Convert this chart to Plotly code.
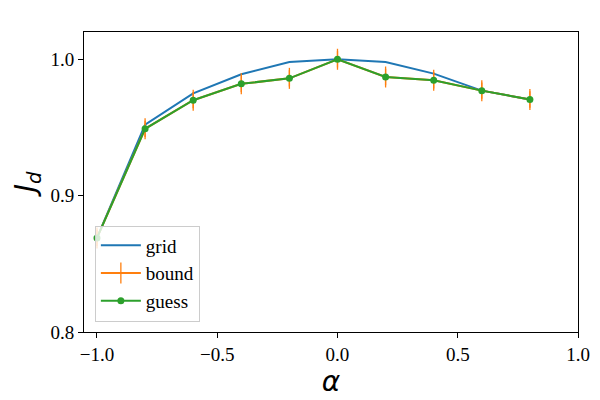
import plotly.graph_objects as go

alpha = [-1.0, -0.8, -0.6, -0.4, -0.2, 0.0, 0.2, 0.4, 0.6, 0.8]
grid = [0.869, 0.952, 0.975, 0.989, 0.998, 1.000, 0.998, 0.9895, 0.977, 0.9705]
bound = [0.869, 0.949, 0.970, 0.982, 0.986, 1.000, 0.987, 0.9846, 0.977, 0.9705]
bound_err = [0.006] * len(alpha)
guess = [0.869, 0.949, 0.970, 0.982, 0.986, 1.000, 0.987, 0.9846, 0.977, 0.9705]

fig = go.Figure()

fig.add_trace(go.Scatter(
    x=alpha, y=grid, mode='lines', name='grid',
    line=dict(color='#1f77b4', width=2)
))
# vertical-line marker so the legend shows the error bar glyph
fig.add_trace(go.Scatter(
    x=alpha, y=bound, mode='lines+markers', name='bound',
    line=dict(color='#ff7f0e', width=2),
    marker=dict(symbol='line-ns-open', size=15, color='#ff7f0e',
                line=dict(color='#ff7f0e', width=1.3)),
    error_y=dict(type='data', array=bound_err, color='#ff7f0e', thickness=1.3, width=0)
))
fig.add_trace(go.Scatter(
    x=alpha, y=guess, mode='lines+markers', name='guess',
    line=dict(color='#2ca02c', width=2),
    marker=dict(color='#2ca02c', size=7)
))

axis_font = dict(family='Liberation Serif', size=19, color='black')

# the page body adds an 8px offset, margins allow for it
fig.update_layout(
    width=600, height=400,
    margin=dict(l=76, r=30, t=24, b=76),
    paper_bgcolor='white', plot_bgcolor='white',
    font=axis_font,
    showlegend=True,
    legend=dict(
        x=0.022, y=0.035, xanchor='left', yanchor='bottom',
        bgcolor='rgba(255,255,255,0.8)', bordercolor='#cccccc', borderwidth=1,
        font=dict(family='Liberation Serif', size=19, color='black'),
        itemwidth=40, tracegroupgap=0
    ),
    xaxis=dict(
        range=[-1.054, 1.0], tickvals=[-1.0, -0.5, 0.0, 0.5, 1.0],
        ticktext=['\u22121.0', '\u22120.5', '0.0', '0.5', '1.0'],
        showgrid=False, zeroline=False, showline=True, mirror=True,
        linecolor='black', linewidth=1, ticks='outside', ticklen=5,
        tickcolor='black', tickfont=axis_font,
        title=dict(text='<i>\u03b1</i>', font=dict(family='DejaVu Sans', size=28), standoff=4)
    ),
    yaxis=dict(
        range=[0.8, 1.02], tickvals=[0.8, 0.9, 1.0],
        ticktext=['0.8', '0.9', '1.0'],
        showgrid=False, zeroline=False, showline=True, mirror=True,
        linecolor='black', linewidth=1, ticks='outside', ticklen=5,
        tickcolor='black', tickfont=axis_font,
        title=dict(text='<i>J<sub>d</sub></i>', font=dict(family='DejaVu Sans', size=28), standoff=6)
    )
)

fig.write_html("out.html")
